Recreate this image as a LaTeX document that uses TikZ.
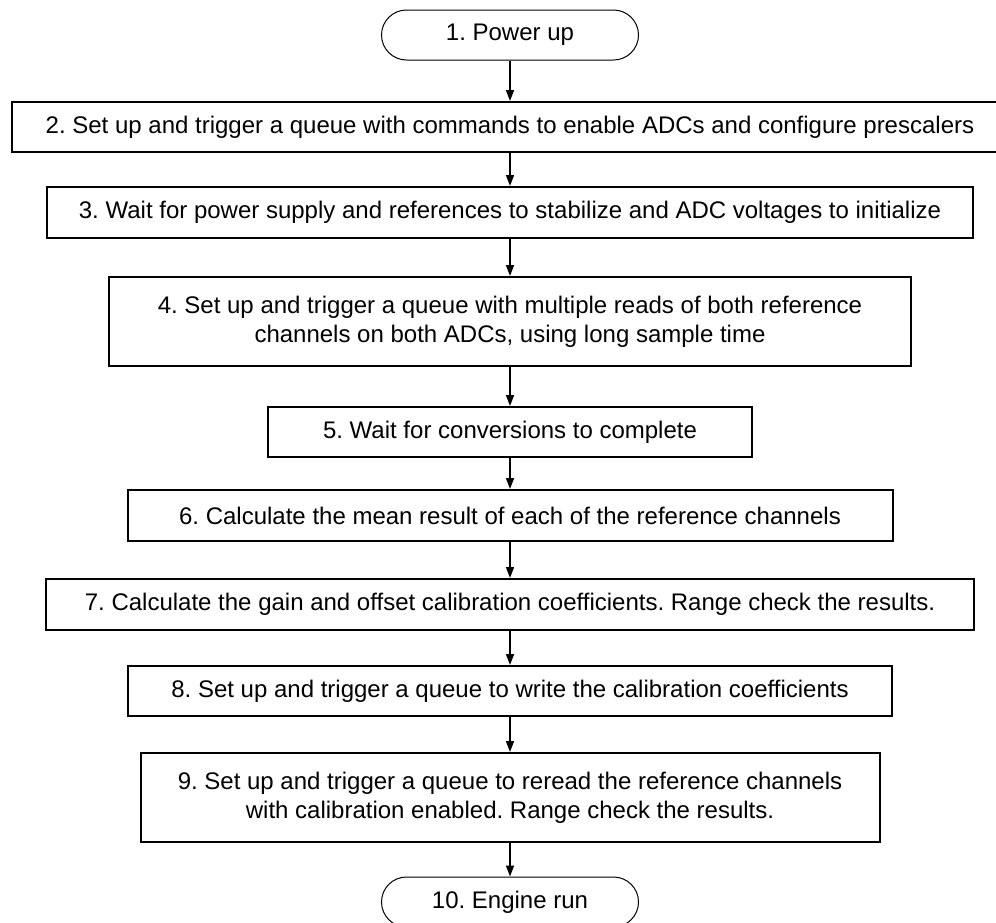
\documentclass[tikz,border=0pt]{standalone}
\usepackage{fontspec}
\setmainfont{Liberation Sans}
\usetikzlibrary{positioning, arrows.meta}
\frenchspacing

\begin{document}
\begin{tikzpicture}[
    x=1pt, y=-1pt,
    box/.style={draw, line width=2pt, minimum height=50pt, inner sep=0pt, align=center,
      font=\fontsize{24}{29}\selectfont},
    term/.style={box, line width=1pt, rounded corners=25pt, minimum width=257pt},
    arr/.style={-{Triangle[length=11pt, width=8pt]}, line width=1.6pt},
  ]
    \useasboundingbox (0,0) rectangle (996,922);

    \node[term] (pwr) at (510,35) {1. Power up};
    \node[box, minimum width=996pt] (enable) at (510,127)
      {2. Set up and trigger a queue with commands to enable ADCs and configure prescalers};
    \node[box, minimum width=926pt, minimum height=51pt] (settle) at (510,212.5)
      {3. Wait for power supply and references to stabilize and ADC voltages to initialize};
    \node[box, minimum width=802pt, minimum height=89pt] (reads) at (510,321.5)
      {4. Set up and trigger a queue with multiple reads of both reference\\channels on both ADCs, using long sample time};
    \node[box, minimum width=484pt] (wait) at (510,432) {5. Wait for conversions to complete};
    \node[box, minimum width=765pt, minimum height=51pt] (mean) at (510,515.5)
      {6. Calculate the mean result of each of the reference channels};
    \node[box, minimum width=928pt, minimum height=51pt] (coef) at (510,604.5)
      {7. Calculate the gain and offset calibration coefficients. Range check the results.};
    \node[box, minimum width=764pt] (write) at (510,691)
      {8. Set up and trigger a queue to write the calibration coefficients};
    \node[box, minimum width=739pt, minimum height=89pt] (reread) at (510,797.5)
      {9. Set up and trigger a queue to reread the reference channels\\with calibration enabled. Range check the results.};
    \node[term] (run) at (510,902) {10. Engine run};

    \draw[arr] (pwr)    -- (enable);
    \draw[arr] (enable) -- (settle);
    \draw[arr] (settle) -- (reads);
    \draw[arr] (reads)  -- (wait);
    \draw[arr] (wait)   -- (mean);
    \draw[arr] (mean)   -- (coef);
    \draw[arr] (coef)   -- (write);
    \draw[arr] (write)  -- (reread);
    \draw[arr] (reread) -- (run);
  \end{tikzpicture}
\end{document}
